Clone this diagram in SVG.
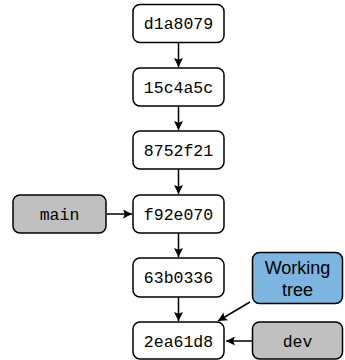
<svg xmlns="http://www.w3.org/2000/svg" width="345" height="360" viewBox="0 0 345 360">
  <style>
    .box { fill: #ffffff; stroke: #000000; stroke-width: 1.5; }
    .ref { fill: #c0c0c0; stroke: #000000; stroke-width: 1.5; }
    .wt { fill: #7cb5df; stroke: #000000; stroke-width: 1.5; }
    .mono { font-family: "Liberation Mono", "DejaVu Sans Mono", monospace; font-size: 16.5px; fill: #000; text-anchor: middle; }
    .sans { font-family: "Liberation Sans", Arial, sans-serif; font-size: 18px; fill: #000; text-anchor: middle; }
    .edge { stroke: #000000; stroke-width: 1.5; fill: none; marker-end: url(#arrow); }
  </style>
  <defs>
    <marker id="arrow" viewBox="0 0 10 10" refX="10" refY="5" markerWidth="10" markerHeight="9" markerUnits="userSpaceOnUse" orient="auto">
      <path d="M0,0 L10,5 L0,10 L2,5 z" fill="#000"/>
    </marker>
  </defs>

  <g id="connectors">
    <line class="edge" x1="178.5" y1="43" x2="178.5" y2="67"/>
    <line class="edge" x1="178.5" y1="106" x2="178.5" y2="130"/>
    <line class="edge" x1="178.5" y1="169" x2="178.5" y2="194"/>
    <line class="edge" x1="178.5" y1="233" x2="178.5" y2="257"/>
    <line class="edge" x1="178.5" y1="297" x2="178.5" y2="321"/>
    <line class="edge" x1="107" y1="214" x2="132" y2="214"/>
    <line class="edge" x1="250" y1="302" x2="218" y2="321"/>
    <line class="edge" x1="252" y1="341" x2="226" y2="341"/>
  </g>

  <g id="c-d1a8079">
    <rect class="box" x="133" y="4.5" width="91" height="38" rx="7"/>
    <text class="mono" x="178.5" y="29">d1a8079</text>
  </g>
  <g id="c-15c4a5c">
    <rect class="box" x="133" y="68" width="91" height="38" rx="7"/>
    <text class="mono" x="178.5" y="92.5">15c4a5c</text>
  </g>
  <g id="c-8752f21">
    <rect class="box" x="133" y="131" width="91" height="38" rx="7"/>
    <text class="mono" x="178.5" y="155.5">8752f21</text>
  </g>
  <g id="c-f92e070">
    <rect class="box" x="133" y="195" width="91" height="38" rx="7"/>
    <text class="mono" x="178.5" y="219.5">f92e070</text>
  </g>
  <g id="c-63b0336">
    <rect class="box" x="133" y="258" width="91" height="39" rx="7"/>
    <text class="mono" x="178.5" y="283">63b0336</text>
  </g>
  <g id="c-2ea61d8">
    <rect class="box" x="133" y="322" width="91" height="37" rx="7"/>
    <text class="mono" x="178.5" y="346.5">2ea61d8</text>
  </g>

  <g id="b-main">
    <rect class="ref" x="13" y="195" width="93" height="38" rx="7"/>
    <text class="mono" x="59.5" y="219.5">main</text>
  </g>
  <g id="b-dev">
    <rect class="ref" x="252.5" y="322" width="90" height="37" rx="7"/>
    <text class="mono" x="297.5" y="346.5">dev</text>
  </g>
  <g id="working-tree">
    <rect class="wt" x="252.5" y="252.5" width="90" height="51" rx="7"/>
    <text class="sans" x="297.5" y="274">Working</text>
    <text class="sans" x="297.5" y="296">tree</text>
  </g>
</svg>
